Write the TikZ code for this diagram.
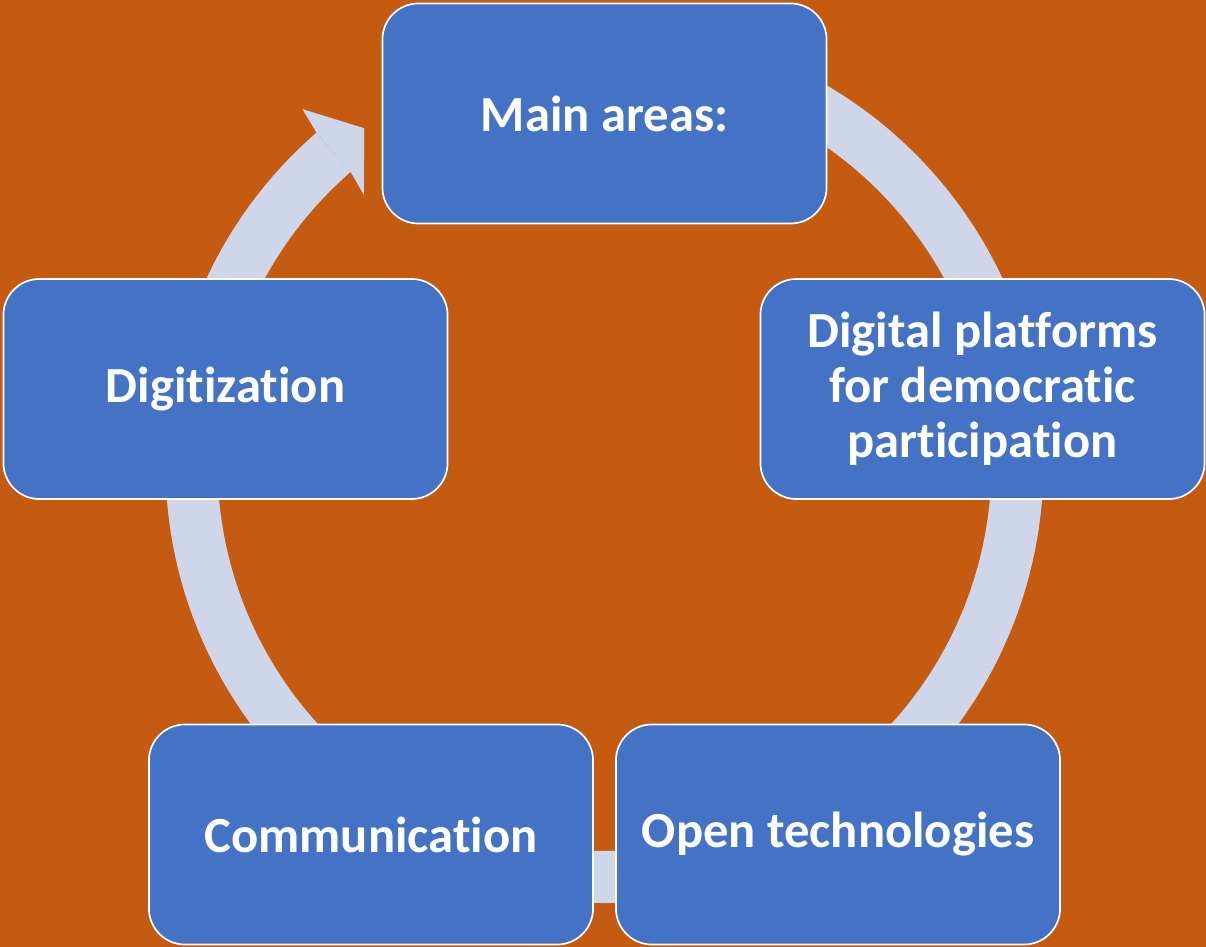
\documentclass[tikz,border=0pt]{standalone}
\usepackage{fontspec}
\setmainfont{Carlito}[RawFeature=-liga]
\usepackage{tikz}
\definecolor{bgorange}{HTML}{C55A11}
\definecolor{areablue}{HTML}{4472C4}
\definecolor{ringgrey}{HTML}{D0D6EA}
\tikzset{
    area/.style={draw=white, line width=1.2pt, fill=areablue, rounded corners=0.9cm,
        minimum width=11.1cm, minimum height=5.5cm, align=center, text=white,
        font=\fontsize{36}{39}\selectfont\bfseries},
    ring/.style={draw=ringgrey, line width=1.3cm}
}

\begin{document}
\begin{tikzpicture}[x=0.025cm, y=0.025cm]
        \fill[bgorange] (0,0) rectangle (1206,947);
        \useasboundingbox (0,0) rectangle (1206,947);

        % ring with its arrow head, round the centre (604.5,483)
        \begin{scope}[shift={(604.5,483)}]
            \draw[ring] (131:413) arc[start angle=131, end angle=450, radius=413];
            \fill[ringgrey] (131:439) -- (130.4:466) -- (125.6:413)
                -- (131.8:361) -- (131:387) -- cycle;
        \end{scope}

        \node[area] (main) at (604.5,833.5) {Main areas:};
        \node[area] (platforms) at (982.5,558) {Digital platforms\\for democratic\\participation};
        \node[area] (opentech) at (838,112.5) {Open technologies};
        \node[area] (comm) at (371,112.5) {Communication};
        \node[area] (digit) at (225.5,558) {Digitization};
    \end{tikzpicture}
\end{document}
